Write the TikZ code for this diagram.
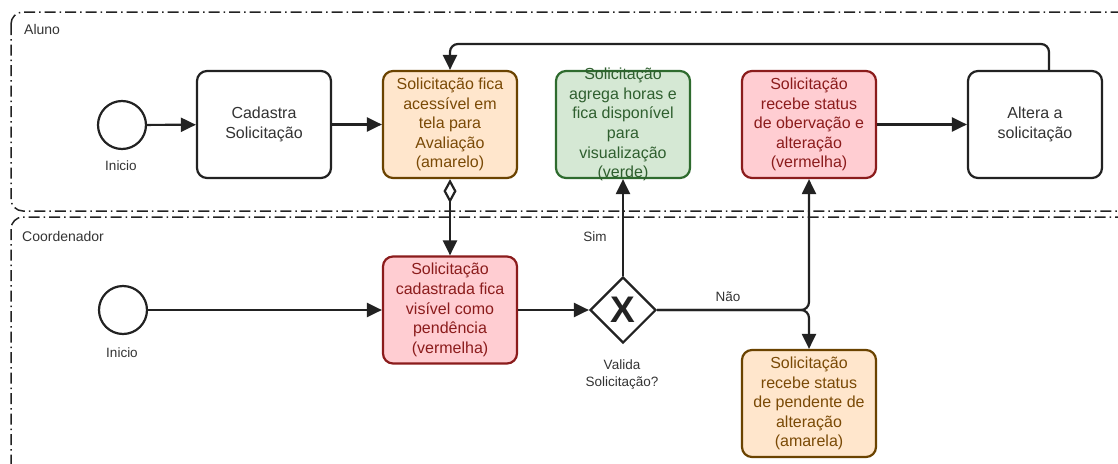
\documentclass[tikz,border=0pt]{standalone}
\usepackage{fontspec}
\setmainfont{Liberation Sans}
\usetikzlibrary{arrows.meta,shapes.geometric}
\definecolor{ink}{HTML}{222222}
\definecolor{txt}{HTML}{333333}
\definecolor{orfill}{HTML}{FFE6CC}
\definecolor{ordraw}{HTML}{6B4300}
\definecolor{ortext}{HTML}{7A4A06}
\definecolor{grfill}{HTML}{D5E8D4}
\definecolor{grdraw}{HTML}{2E6B2E}
\definecolor{grtext}{HTML}{2F5F2F}
\definecolor{rdfill}{HTML}{FFCDD2}
\definecolor{rddraw}{HTML}{8B1C1C}
\definecolor{rdtext}{HTML}{8B1C1C}
\begin{document}
\begin{tikzpicture}[x=1pt,y=-1pt,
  lane/.style={draw=ink, line width=1.5pt, rounded corners=12pt,
    dash pattern=on 11pt off 4pt on 1.5pt off 4pt},
  lanelabel/.style={anchor=west, inner sep=0pt, text=txt, font=\fontsize{14}{16}\selectfont},
  smalllabel/.style={inner sep=0pt, text=txt, align=center, font=\fontsize{13.5}{17}\selectfont},
  task/.style={draw=ink, fill=white, line width=2.2pt, rounded corners=10pt,
    minimum width=134pt, minimum height=107pt, inner xsep=2pt, inner ysep=0pt,
    align=center, text=txt, font=\fontsize{16}{19.6}\selectfont},
  orangebox/.style={task, draw=ordraw, fill=orfill, text=ortext},
  greenbox/.style={task, draw=grdraw, fill=grfill, text=grtext, inner ysep=-8pt},
  redbox/.style={task, draw=rddraw, fill=rdfill, text=rdtext},
  startev/.style={circle, draw=ink, line width=2.2pt, minimum size=48pt, inner sep=0pt, fill=white},
  gateway/.style={diamond, draw=ink, line width=2.2pt, minimum width=66pt, minimum height=66pt,
    inner sep=0pt, fill=white, text=ink, font=\fontsize{37}{37}\selectfont\bfseries},
  flow/.style={draw=ink, line width=2.2pt, rounded corners=8pt,
    -{Triangle[length=15pt,width=14pt]}},
  assoc/.style={draw=ink, line width=2.2pt,
    {Diamond[open,length=24pt,width=13pt]}-{Triangle[length=15pt,width=14pt]}}
]
\useasboundingbox (0,0) rectangle (1118,463);
\clip (0,0) rectangle (1118,463);

% lanes
\draw[lane] (11,12) rectangle (1150,211);
\draw[lane] (11,217) rectangle (1150,490);
\node[lanelabel] (lblA) at (24,29) {Aluno};
\node[lanelabel] (lblC) at (22,236) {Coordenador};

% Aluno lane
\node[startev] (s1) at (122,125) {};
\node[smalllabel] (s1l) at (121,166) {Inicio};
\node[task] (cad) at (264,124.5) {Cadastra\\Solicitação};
\node[orangebox] (ava) at (450,124.5) {Solicitação fica\\acessível em\\tela para\\Avaliação\\(amarelo)};
\node[greenbox] (ver) at (623,124.5) {Solicitação\\agrega horas e\\fica disponível\\para\\visualização\\(verde)};
\node[redbox] (obs) at (809,124.5) {Solicitação\\recebe status\\de obervação e\\alteração\\(vermelha)};
\node[task] (alt) at (1035,124.5) {Altera a\\solicitação};

% Coordenador lane
\node[startev] (s2) at (123,310) {};
\node[smalllabel] (s2l) at (122,353) {Inicio};
\node[redbox] (pen) at (450,310) {Solicitação\\cadastrada fica\\visível como\\pendência\\(vermelha)};
\node[gateway] (gw) at (623,310) {X};
\node[smalllabel] (gwl) at (622,374.5) {Valida\\Solicitação?};
\node[orangebox] (pal) at (809,403.5) {Solicitação\\recebe status\\de pendente de\\alteração\\(amarela)};

% connectors
\draw[flow] (s1) -- (cad);
\draw[flow] (cad) -- (ava);
\draw[flow] (obs) -- (alt);
\coordinate (loopR) at (1049,44);
\coordinate (loopL) at (450,44);
\draw[flow] (alt.north -| loopR) -- (loopR) -- (loopL) -- (ava.north);
\draw[assoc] (ava.south) -- (pen.north);
\draw[flow] (s2) -- (pen);
\draw[flow] (pen) -- (gw);
\draw[flow] (gw.north) -- (ver.south);
\draw[flow] (gw.east) -| (obs.south);
\draw[flow] (gw.east) -| (pal.north);
\node[smalllabel] (sim) at (595,237) {Sim};
\node[smalllabel] (nao) at (728,297) {Não};
\end{tikzpicture}
\end{document}
